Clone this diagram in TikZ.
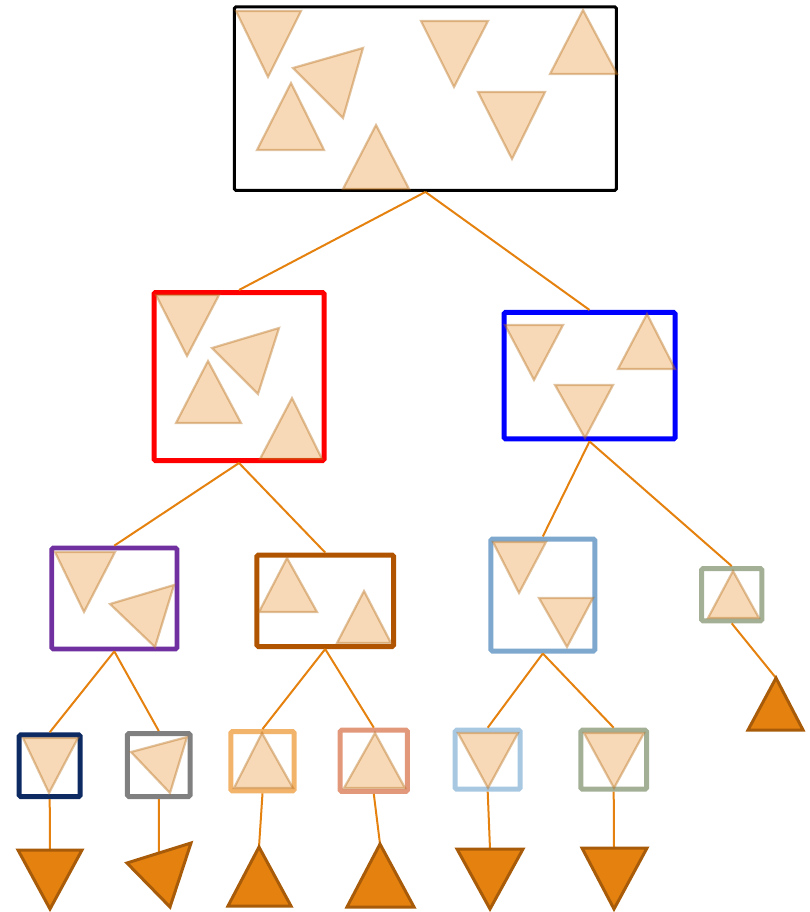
\documentclass[tikz,border=0pt]{standalone}
\usetikzlibrary{positioning}
\definecolor{orng}{HTML}{E5820F}
\definecolor{orngdk}{HTML}{A85C0A}
\definecolor{tridk}{HTML}{B8701E}
\definecolor{cpurple}{HTML}{7030A0}
\definecolor{cbrown}{HTML}{B05400}
\definecolor{csteel}{HTML}{7EA8CD}
\definecolor{csage}{HTML}{A3B096}
\definecolor{cnavy}{HTML}{0E2A63}
\definecolor{cgray}{HTML}{808080}
\definecolor{clorange}{HTML}{F2B36B}
\definecolor{csalmon}{HTML}{E2987A}
\definecolor{clblue}{HTML}{A8C8E2}
\tikzset{
  box/.style={draw, rounded corners=1.5pt, inner sep=0pt, fill=none},
  conn/.style={draw=orng, line width=2pt},
  ltri/.style={fill=orng, fill opacity=0.3, draw=tridk, draw opacity=0.42, line width=2.2pt, line join=miter},
  otri/.style={fill=orng, draw=orngdk, line width=3pt, line join=miter}
}
\begin{document}
\begin{tikzpicture}[x=1pt,y=-1pt]
\useasboundingbox (0,0) rectangle (809,912);
% boxes
\node[box, draw=black, line width=3pt, minimum width=382pt, minimum height=183.5pt] (top) at (425.4,98.7) {};
\node[box, draw=red, line width=5pt, minimum width=170pt, minimum height=168pt] (red) at (239,376.5) {};
\node[box, draw=blue, line width=5pt, minimum width=171pt, minimum height=126.5pt] (blue) at (589.5,375.7) {};
\node[box, draw=cpurple, line width=4.7pt, minimum width=125.3pt, minimum height=101pt] (purple) at (114.3,598.5) {};
\node[box, draw=cbrown, line width=5pt, minimum width=136.7pt, minimum height=91.5pt] (brown) at (325.2,600.8) {};
\node[box, draw=csteel, line width=5pt, minimum width=104pt, minimum height=112pt] (steel) at (542.8,595) {};
\node[box, draw=csage, line width=5pt, minimum width=60.3pt, minimum height=52.3pt] (sage) at (731.7,594.7) {};
\node[box, draw=cnavy, line width=5pt, minimum width=61pt, minimum height=61.7pt] (navy) at (49.7,765.7) {};
\node[box, draw=cgray, line width=5pt, minimum width=62.7pt, minimum height=63pt] (gray) at (158.8,765) {};
\node[box, draw=clorange, line width=5pt, minimum width=63.4pt, minimum height=59.3pt] (lorange) at (262.5,761.2) {};
\node[box, draw=csalmon, line width=5pt, minimum width=67.3pt, minimum height=61.3pt] (salmon) at (373.8,760.8) {};
\node[box, draw=clblue, line width=5pt, minimum width=65pt, minimum height=59pt] (lblue) at (487.7,759.7) {};
\node[box, draw=csage, line width=5pt, minimum width=65.7pt, minimum height=59pt] (sage2) at (613.7,759.7) {};
% output connection points
\coordinate (oSage) at (776,678);
\coordinate (oNavy) at (50,850);
\coordinate (oGray) at (159,853);
\coordinate (oLorange) at (259,847);
\coordinate (oSalmon) at (380,844);
\coordinate (oLblue) at (490,849);
\coordinate (oSage2) at (614,848);
% connectors
\draw[conn] (top.south) -- (red.north);
\draw[conn] (top.south) -- (blue.north);
\draw[conn] (red.south) -- (purple.north);
\draw[conn] (red.south) -- (brown.north);
\draw[conn] (blue.south) -- (steel.north);
\draw[conn] (blue.south) -- (sage.north);
\draw[conn] (purple.south) -- (navy.north);
\draw[conn] (purple.south) -- (gray.north);
\draw[conn] (brown.south) -- (lorange.north);
\draw[conn] (brown.south) -- (salmon.north);
\draw[conn] (steel.south) -- (lblue.north);
\draw[conn] (steel.south) -- (sage2.north);
\draw[conn] (sage.south) -- (oSage);
\draw[conn] (navy.south) -- (oNavy);
\draw[conn] (gray.south) -- (oGray);
\draw[conn] (lorange.south) -- (oLorange);
\draw[conn] (salmon.south) -- (oSalmon);
\draw[conn] (lblue.south) -- (oLblue);
\draw[conn] (sage2.south) -- (oSage2);
% light triangles: top box
\path[ltri] (236,11) -- (301,11) -- (268,77) -- cycle;
\path[ltri] (293,68) -- (363,48) -- (343,118) -- cycle;
\path[ltri] (291,83) -- (257,150) -- (324,150) -- cycle;
\path[ltri] (376,125) -- (343,189) -- (409,189) -- cycle;
\path[ltri] (421,21) -- (488,21) -- (454,87) -- cycle;
\path[ltri] (478,92) -- (545,92) -- (512,159) -- cycle;
\path[ltri] (583,10) -- (550,74) -- (617,74) -- cycle;
% red
\path[ltri] (156,295) -- (219,295) -- (187,356) -- cycle;
\path[ltri] (212,348) -- (279,328) -- (258,394) -- cycle;
\path[ltri] (208,361) -- (176,423) -- (241,423) -- cycle;
\path[ltri] (292,398) -- (260,459) -- (322,459) -- cycle;
% blue
\path[ltri] (505,325) -- (563,325) -- (534,380) -- cycle;
\path[ltri] (647,314) -- (618,369) -- (675,369) -- cycle;
\path[ltri] (555,385) -- (613,385) -- (585,438) -- cycle;
% purple
\path[ltri] (55,552) -- (115,552) -- (84,612) -- cycle;
\path[ltri] (110,604) -- (174,585) -- (155,647) -- cycle;
% brown
\path[ltri] (287,558) -- (259,612) -- (317,612) -- cycle;
\path[ltri] (364,591) -- (337,643) -- (391,643) -- cycle;
% steel
\path[ltri] (493,542) -- (546,542) -- (519,593) -- cycle;
\path[ltri] (539,598) -- (593,598) -- (567,647) -- cycle;
% sage
\path[ltri] (733,571) -- (708,618) -- (759,618) -- cycle;
% level 3
\path[ltri] (23,738) -- (78,738) -- (49,793) -- cycle;
\path[ltri] (131,752) -- (187,737) -- (170,793) -- cycle;
\path[ltri] (262,733) -- (234,788) -- (293,788) -- cycle;
\path[ltri] (375,733) -- (344,788) -- (405,788) -- cycle;
\path[ltri] (458,733) -- (518,733) -- (488,788) -- cycle;
\path[ltri] (584,733) -- (644,733) -- (614,788) -- cycle;
% outputs
\path[otri] (oSage) -- (748,730) -- (803,730) -- cycle;
\path[otri] (18,850) -- (82,850) -- (50,909) -- cycle;
\path[otri] (127,863) -- (191,843) -- (170,907) -- cycle;
\path[otri] (oLorange) -- (228,906) -- (291,906) -- cycle;
\path[otri] (oSalmon) -- (347,907) -- (414,907) -- cycle;
\path[otri] (457,849) -- (523,849) -- (490,909) -- cycle;
\path[otri] (582,848) -- (647,848) -- (614,909) -- cycle;
\end{tikzpicture}
\end{document}
